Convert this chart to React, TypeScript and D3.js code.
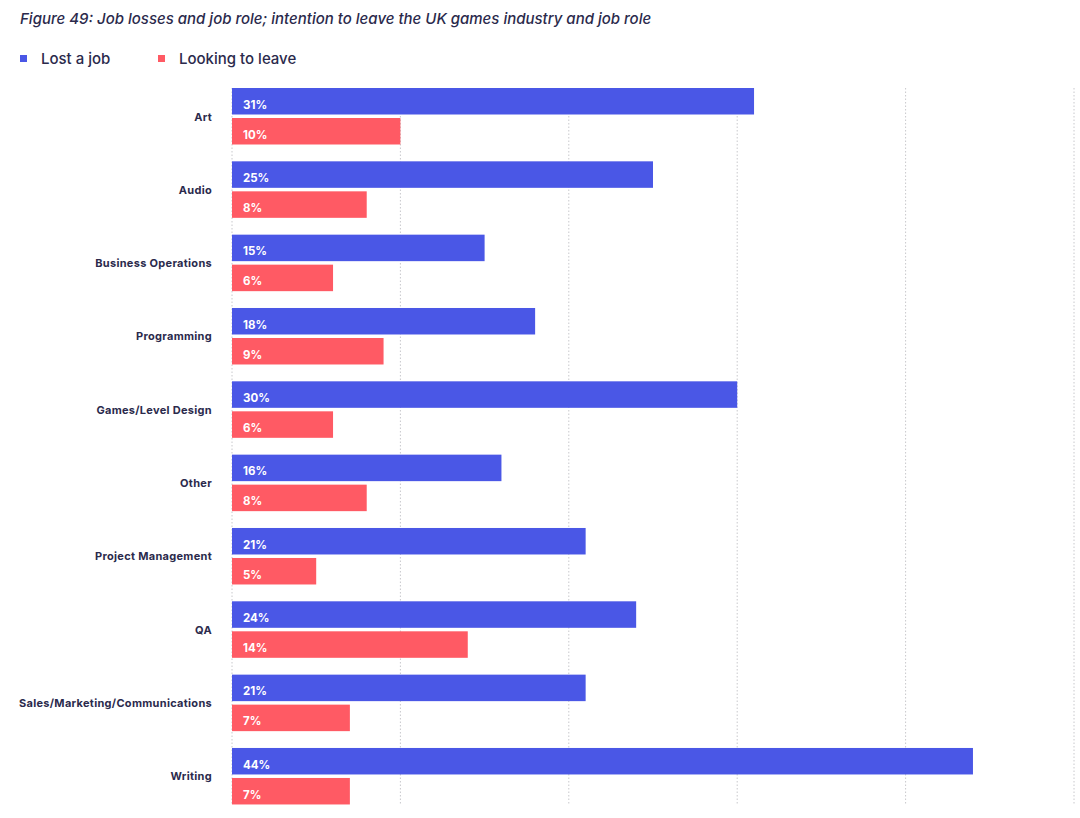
import React from "react";
import * as d3 from "d3";

const categories = [
  "Art",
  "Audio",
  "Business Operations",
  "Programming",
  "Games/Level Design",
  "Other",
  "Project Management",
  "QA",
  "Sales/Marketing/Communications",
  "Writing",
];
const lostJob = [31, 25, 15, 18, 30, 16, 21, 24, 21, 44];
const lookingToLeave = [10, 8, 6, 9, 6, 8, 5, 14, 7, 7];
const seriesNames = ["Lost a job", "Looking to leave"];
const gridTicks = [0, 10, 20, 30, 40, 50];

const W = 1080;
const H = 818;
const BLUE = "#4a57e6";
const RED = "#ff5a64";
const TEXT = "#2b2a4c";
const FONT = "Inter, 'DejaVu Sans', sans-serif";

export default function App() {
  const x = d3.scaleLinear().domain([0, 50]).range([232, 1074]);
  const y = d3.scaleBand<string>().domain(categories).range([88, 88 + 73.33 * 10]).paddingInner(0).paddingOuter(0);
  const inner = d3.scaleBand<string>().domain(seriesNames).range([0, 56.5]).paddingInner(0.1167).paddingOuter(0);
  const series = [lostJob, lookingToLeave];
  const colors = [BLUE, RED];
  return (
    <svg width={W} height={H} style={{ position: "absolute", left: 0, top: 0, background: "#fff" }} fontFamily={FONT}>
      <text x={20} y={24} fontSize={15} fontStyle="italic" fontWeight={500} fill={TEXT}>
        Figure 49: Job losses and job role; intention to leave the UK games industry and job role
      </text>
      {seriesNames.map((s, i) => (
        <g key={s} transform={`translate(${i === 0 ? 20 : 158},0)`}>
          <rect x={0} y={55} width={7} height={7} fill={colors[i]} />
          <text x={21} y={64} fontSize={15} fontWeight={500} fill={TEXT}>{s}</text>
        </g>
      ))}
      {gridTicks.map((t) => (
        <line key={t} x1={x(t)} x2={x(t)} y1={88} y2={805} stroke="#c8c8cc" strokeWidth={1} strokeDasharray="1.5,2" />
      ))}
      {categories.map((c, ci) => (
        <g key={c} transform={`translate(0,${y(c)})`}>
          <text x={212} y={32.5} textAnchor="end" fontSize={11} fontWeight={700} letterSpacing={0.3} fill={TEXT}>{c}</text>
          {series.map((vals, si) => (
            <g key={si}>
              <rect x={x(0)} y={inner(seriesNames[si])} width={x(vals[ci]) - x(0)} height={inner.bandwidth()} fill={colors[si]} />
              <text x={x(0) + 11} y={(inner(seriesNames[si]) as number) + inner.bandwidth() / 2 + 7.5} fontSize={11.5} fontWeight={700} fill="#fff">
                {vals[ci]}%
              </text>
            </g>
          ))}
        </g>
      ))}
    </svg>
  );
}
